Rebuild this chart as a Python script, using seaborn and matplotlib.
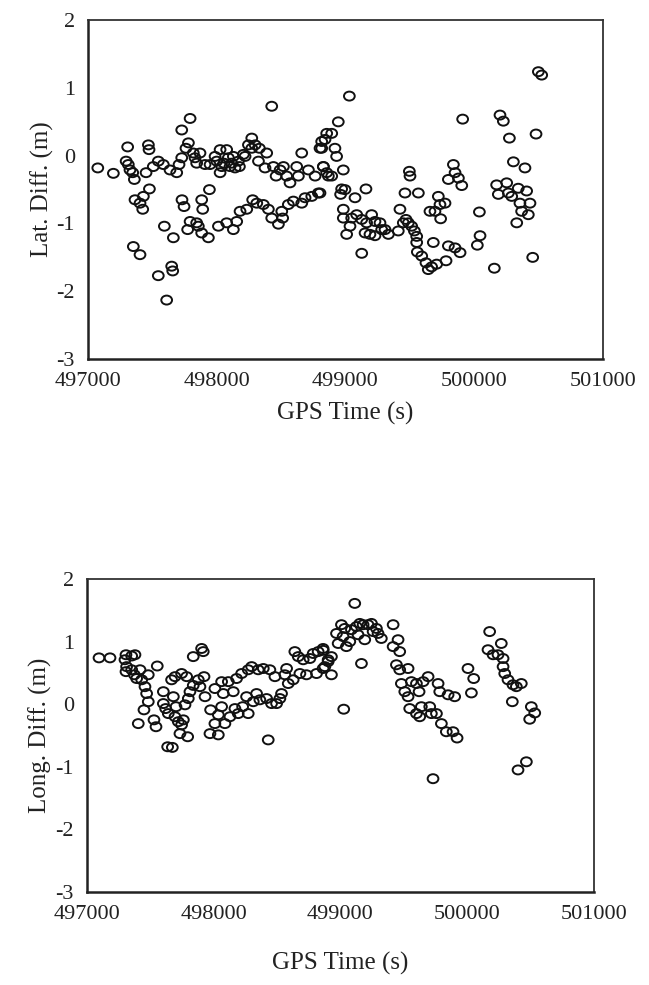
import numpy as np
import pandas as pd
import seaborn as sns
import matplotlib.pyplot as plt
from matplotlib.path import Path
from matplotlib.transforms import Affine2D
from matplotlib.ticker import MultipleLocator

# latitude difference vs GPS time (top panel)
lat_time = [497076, 497197, 497308, 497296, 497313, 497326, 497347, 497360, 497365, 497404,
            497425, 497430, 497451, 497469, 497474, 497477, 497352, 497404, 497507, 497546,
            497585, 497593, 497546, 497637, 497650, 497658, 497611, 497663, 497689, 497707,
            497728, 497728, 497730, 497746, 497761, 497780, 497793, 497774, 497793, 497818,
            497831, 497844, 497844, 497857, 497870, 497883, 497891, 497883, 497909, 497935,
            497943, 497948, 497987, 498000, 498013, 498026, 498026, 498039, 498056, 498077,
            498077, 498090, 498103, 498116, 498129, 498129, 498142, 498155, 498168, 498176,
            498181, 498207, 498220, 498233, 498246, 498272, 498272, 498279, 498298, 498311,
            498324, 498331, 498362, 498375, 498388, 498401, 498427, 498427, 498440, 498461,
            498479, 498492, 498505, 498512, 498518, 498543, 498556, 498569, 498595, 498621,
            498634, 498660, 498660, 498686, 498712, 498738, 498764, 498789, 498802, 498815,
            498828, 498854, 498867,
            499030, 498944, 498893, 498841, 498815, 498918, 498931, 498828, 498854, 498893,
            498983, 498802, 498970, 498996, 498962, 499074, 499159, 498983, 498983, 499048,
            499035, 499009, 499087, 499126, 499164, 499203, 499229, 499268, 499152, 499190,
            499229, 499281, 499307, 499333, 499126, 499423, 499410, 499449, 499470, 499488,
            499514, 499535, 499553, 499553, 499558, 499592, 499625, 499643, 499669, 499708,
            499682, 499781, 499799, 499851, 499890, 499462, 499501, 499496, 499566, 499656,
            499695, 499721, 499734, 499773, 499739, 499799, 499838, 499851, 499877, 499903,
            499910, 500040, 500045, 500024, 500156, 500200, 500226, 500273, 500304, 500394,
            500174, 500252, 500187, 500265, 500342, 500407, 500291, 500355, 500433, 500368,
            500420, 500330, 500480, 500498, 500524, 500454]
lat_diff = [-0.18, -0.26, 0.13, -0.08, -0.13, -0.21, -0.25, -0.35, -0.65, -0.70,
            -0.79, -0.60, -0.25, 0.16, 0.09, -0.49, -1.34, -1.46, -0.16, -0.08,
            -0.13, -1.04, -1.77, -0.21, -1.63, -1.70, -2.13, -1.21, -0.25, -0.13,
            -0.03, 0.38, -0.65, -0.75, 0.11, 0.19, 0.55, -1.09, -0.97, 0.04,
            -0.03, -0.11, -0.99, -1.04, 0.04, -0.65, -0.79, -1.14, -0.13, -1.21,
            -0.50, -0.13, -0.01, -0.08, -1.04, 0.09, -0.25, -0.16, -0.11, 0.09,
            -0.99, -0.03, -0.16, -0.11, -0.01, -1.09, -0.18, -0.97, -0.08, -0.16,
            -0.82, 0.02, -0.01, -0.79, 0.16, 0.26, 0.11, -0.65, 0.16, -0.70,
            -0.08, 0.11, -0.72, -0.18, 0.04, -0.79, 0.73, -0.92, -0.16, -0.30,
            -1.01, -0.21, -0.82, -0.92, -0.16, -0.30, -0.72, -0.40, -0.67, -0.16,
            -0.30, 0.04, -0.70, -0.62, -0.21, -0.60, -0.30, -0.55, 0.11, 0.21,
            -0.16, 0.33, -0.30,
            0.88, 0.50, 0.33, 0.24, 0.11, 0.11, -0.01, -0.16, -0.25, -0.30,
            -0.21, -0.55, -0.49, -0.50, -0.57, -0.62, -0.49, -0.79, -0.92, -0.92,
            -1.04, -1.16, -0.87, -0.94, -0.99, -0.87, -0.97, -0.99, -1.14, -1.16,
            -1.18, -1.09, -1.09, -1.16, -1.44, -0.79, -1.11, -0.99, -0.94, -0.99,
            -1.04, -1.11, -1.19, -1.28, -1.42, -1.48, -1.58, -1.68, -1.64, -1.60,
            -1.28, -1.55, -1.33, -1.36, -1.43, -0.55, -0.30, -0.23, -0.55, -0.82,
            -0.82, -0.60, -0.72, -0.70, -0.93, -0.35, -0.13, -0.25, -0.33, -0.44,
            0.54, -0.83, -1.18, -1.32, -1.66, 0.60, 0.51, 0.26, -0.09, -0.18,
            -0.43, -0.40, -0.57, -0.55, -0.48, -0.52, -0.60, -0.70, -0.70, -0.82,
            -0.87, -0.99, 0.32, 1.24, 1.19, -1.50]

# longitude difference vs GPS time (bottom panel)
long_time = [497095, 497182, 497308, 497353, 497379, 497300, 497313, 497308, 497353, 497374,
             497392, 497419, 497432, 497458, 497471, 497484, 497450, 497484, 497555, 497405,
             497529, 497545, 497603, 497603, 497621, 497642, 497637, 497674, 497668, 497695,
             497682, 497703, 497695, 497721, 497747, 497761, 497734, 497747, 497787, 497795,
             497774, 497800, 497813, 497839, 497839, 497879, 497892, 497918, 497905, 497924,
             497932, 497976, 497971, 498010, 498037, 498037, 498010, 498063, 498076, 498063,
             498089, 498116, 498129, 498155, 498168, 498181, 498194, 498221, 498229, 498260,
             498273, 498273, 498300, 498313, 498339, 498352, 498365, 498392, 498418, 498431,
             498444, 498457, 498484, 498497, 498523, 498536, 498562, 498576, 498589, 498628,
             498641, 498668, 498681, 498707, 498733, 498760, 498786, 498812, 498825, 498865,
             498878, 498904,
             499114, 498864, 498904, 498864, 498930, 498930, 498970, 498983, 499009, 499022,
             499035, 499048, 499075, 499088, 499127, 499154, 499140, 499180, 499193, 499219,
             499246, 499259, 499285, 499298, 499324, 499167, 499027, 499417, 499456, 499417,
             499469, 499443, 499469, 499535, 499482, 499509, 499535, 499548, 499561, 499601,
             499622, 499601, 499627, 499640, 499654, 499693, 499706, 499719, 499759, 499772,
             499785, 499798, 499837, 499851, 499890, 499903, 499922, 499732, 500008, 500053,
             500035, 500179, 500166, 500206, 500271, 500245, 500285, 500285, 500298, 500324,
             500363, 500390, 500429, 500358, 500508, 500535, 500495, 500469, 500403]
long_diff = [0.74, 0.74, 0.79, 0.77, 0.79, 0.71, 0.60, 0.52, 0.55, 0.47,
             0.41, 0.55, 0.39, 0.28, 0.17, 0.04, -0.09, 0.47, 0.61, -0.31,
             -0.25, -0.36, 0.20, 0.01, -0.07, -0.15, -0.68, -0.69, 0.39, 0.44,
             0.12, -0.04, -0.20, -0.28, -0.33, -0.25, -0.47, 0.49, 0.44, -0.52,
             -0.01, 0.09, 0.20, 0.76, 0.30, 0.39, 0.28, 0.84, 0.89, 0.44,
             0.12, -0.09, -0.47, -0.31, -0.49, -0.17, 0.25, 0.36, 0.17, -0.04,
             -0.31, 0.36, -0.20, 0.20, -0.07, 0.41, -0.15, 0.49, -0.04, 0.12,
             0.55, -0.15, 0.60, 0.04, 0.17, 0.55, 0.07, 0.57, 0.09, -0.57,
             0.55, 0.01, 0.44, 0.01, 0.09, 0.17, 0.47, 0.57, 0.33, 0.39,
             0.84, 0.76, 0.49, 0.71, 0.47, 0.73, 0.81, 0.49, 0.84, 0.86,
             0.60, 0.68,
             1.61, 0.89, 0.71, 0.57, 0.47, 0.76, 1.13, 0.97, 1.27, 1.08,
             1.21, 0.92, 1.00, 1.19, 1.24, 1.29, 1.11, 1.27, 1.03, 1.27,
             1.29, 1.16, 1.21, 1.13, 1.05, 0.65, -0.08, 1.27, 1.03, 0.92,
             0.84, 0.63, 0.55, 0.57, 0.33, 0.20, 0.12, -0.07, 0.36, 0.33,
             0.20, -0.15, -0.20, -0.04, 0.36, 0.44, -0.04, -0.15, -0.15, 0.33,
             0.20, -0.31, -0.44, 0.15, -0.44, 0.12, -0.54, -1.19, 0.57, 0.41,
             0.18, 1.16, 0.87, 0.79, 0.97, 0.79, 0.73, 0.60, 0.49, 0.39,
             0.31, 0.28, 0.33, 0.04, -0.04, -0.14, -0.24, -0.92, -1.05]

x_ticks = [497000, 498000, 499000, 500000, 501000]
y_ticks = [-3, -2, -1, 0, 1, 2]

sns.set_style("white")
plt.rcParams['font.family'] = ['Liberation Serif', 'DejaVu Serif']
plt.rcParams['axes.unicode_minus'] = False

# slightly squashed open circles like the original
ellipse = Path.unit_circle().transformed(Affine2D().scale(1.2, 1.0))

fig = plt.figure(figsize=(6.49, 9.85), dpi=100)
ax1 = fig.add_axes([0.1356, 0.6355, 0.7935, 0.344])
ax2 = fig.add_axes([0.134, 0.0944, 0.7807, 0.3178])

panels = [(ax1, lat_time, lat_diff, 'Lat. Diff. (m)', 8),
          (ax2, long_time, long_diff, 'Long. Diff. (m)', 20)]

for ax, t, d, ylab, pad in panels:
    df = pd.DataFrame({'t': t, 'd': d})
    sns.scatterplot(data=df, x='t', y='d', ax=ax, marker=ellipse, s=60,
                    facecolors='none', edgecolor='#111111', linewidth=1.4)
    ax.set_xlim(497000, 501000)
    ax.set_ylim(-3, 2)
    ax.set_xticks(x_ticks)
    ax.set_xticklabels([str(v) for v in x_ticks])
    ax.set_yticks(y_ticks)
    ax.set_yticklabels([str(v) for v in y_ticks])
    ax.xaxis.set_minor_locator(MultipleLocator(500))
    ax.yaxis.set_minor_locator(MultipleLocator(0.5))
    ax.tick_params(which='major', direction='inout', length=12, width=1.3,
                   labelsize=16, colors='#222222', top=False, right=False)
    ax.tick_params(which='minor', direction='out', length=4, width=1.2,
                   top=False, right=False)
    ax.set_xlabel('GPS Time (s)', fontsize=18, color='#222222', labelpad=pad)
    ax.set_ylabel(ylab, fontsize=18, color='#222222', labelpad=2)
    for side in ['left', 'bottom']:
        ax.spines[side].set_linewidth(1.8)
        ax.spines[side].set_color('#222222')
    for side in ['top', 'right']:
        ax.spines[side].set_linewidth(1.3)
        ax.spines[side].set_color('#333333')

fig.savefig('out.png', dpi=100)
